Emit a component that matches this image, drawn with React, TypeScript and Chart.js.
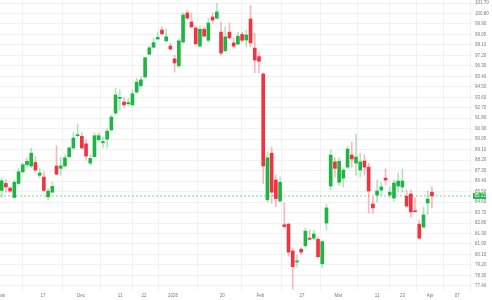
import React, { useEffect, useRef } from "react";
import { Chart, registerables } from "chart.js";

Chart.register(...registerables);

// OHLC values (one entry per daily candle)
const opens = [
  85.6, 86.2, 85.8, 85.0, 86.2, 87.2, 87.8, 87.7, 88.0, 86.9,
  86.75, 85.05, 85.45, 87.7, 87.5, 87.7, 88.5, 89.25, 90.3, 90.25,
  89.6, 87.95, 88.5, 89.95, 89.7, 90.0, 90.8, 92.25, 93.5, 93.2,
  93.05, 92.95, 94.05, 94.6, 95.35, 97.3, 97.9, 98.6, 99.38, 98.45,
  98.0, 96.9, 96.3, 98.35, 100.85, 100.07, 99.55, 98.0, 99.45, 98.5,
  100.5, 100.4, 99.2, 97.6, 99.2, 98.27, 98.18, 99.0, 98.52, 100.33,
  97.83, 97.1, 95.6, 84.8, 88.8, 86.5, 84.7, 82.65, 82.7, 80.4,
  79.45, 80.55, 80.85, 81.5, 81.5, 81.4, 79.3, 82.8, 85.98, 88.05,
  86.3, 86.66, 87.6, 88.64, 87.95, 87.35, 88.13, 87.6, 84.43, 85.2,
  85.63, 86.66, 85.2, 84.95, 85.98, 85.9, 85.1, 85.3, 83.85, 82.7,
  82.45, 84.52, 85.45,
];
const highs = [
  86.65, 86.5, 85.92, 86.5, 87.5, 87.95, 88.4, 89.25, 88.5, 87.5,
  87.2, 85.75, 86.3, 89.45, 88.45, 88.65, 89.35, 90.55, 91.3, 90.55,
  89.95, 88.65, 90.55, 90.55, 90.2, 90.9, 92.1, 94.4, 94.23, 93.6,
  93.5, 94.23, 95.25, 95.35, 97.05, 98.0, 98.7, 99.2, 99.65, 99.5,
  98.25, 97.2, 98.6, 100.85, 101.1, 100.85, 99.72, 99.72, 99.65, 100.4,
  100.85, 101.68, 100.07, 99.65, 99.98, 98.7, 99.2, 99.2, 99.38, 101.5,
  99.12, 97.5, 95.7, 88.9, 89.33, 86.92, 86.75, 84.52, 82.8, 80.6,
  80.05, 80.7, 82.37, 82.2, 82.2, 81.6, 81.35, 84.43, 89.07, 88.4,
  88.4, 87.5, 89.4, 89.75, 90.45, 88.8, 88.64, 87.95, 85.03, 86.49,
  86.32, 87.44, 85.9, 86.49, 87.1, 87.44, 85.63, 85.63, 84.95, 83.06,
  84.18, 85.55, 85.9,
];
const lows = [
  85.03, 85.45, 85.45, 84.95, 86.1, 87.1, 87.6, 87.55, 87.2, 86.7,
  85.45, 84.8, 85.4, 86.9, 86.9, 87.6, 88.4, 89.1, 90.2, 89.15,
  88.2, 87.8, 88.45, 89.8, 89.25, 89.25, 90.7, 92.1, 92.5, 92.75,
  92.9, 92.85, 93.95, 94.5, 95.25, 97.25, 97.85, 98.6, 98.95, 98.35,
  97.65, 95.77, 96.2, 98.25, 100.24, 99.55, 98.1, 97.9, 98.8, 98.35,
  99.98, 100.33, 97.23, 97.5, 98.6, 97.83, 98.1, 98.35, 97.92, 97.92,
  95.7, 95.7, 86.2, 84.6, 84.52, 84.2, 84.6, 82.37, 79.96, 77.13,
  79.0, 80.05, 80.65, 81.35, 81.35, 79.8, 78.93, 82.2, 85.63, 86.75,
  86.05, 85.9, 87.5, 87.6, 86.9, 86.75, 86.92, 83.65, 83.65, 84.6,
  85.2, 86.07, 85.03, 84.69, 85.46, 85.46, 84.1, 83.3, 83.75, 81.42,
  82.37, 83.5, 84.1,
];
const closes = [
  86.43, 85.9, 85.55, 86.3, 87.2, 87.8, 88.1, 88.8, 87.35, 87.1,
  85.6, 85.55, 85.95, 87.0, 87.7, 88.4, 89.25, 90.1, 90.38, 89.25,
  88.55, 88.35, 90.3, 90.3, 89.8, 90.7, 91.9, 93.8, 93.6, 92.95,
  93.15, 93.9, 94.9, 95.1, 97.0, 97.85, 98.3, 98.75, 99.05, 98.8,
  97.75, 96.55, 98.45, 100.67, 100.4, 99.65, 98.2, 99.45, 98.85, 99.98,
  100.24, 100.93, 97.4, 98.8, 98.7, 98.0, 98.85, 98.5, 98.95, 98.27,
  96.8, 96.7, 87.7, 88.4, 85.45, 84.9, 86.3, 82.5, 80.3, 79.05,
  79.55, 80.3, 82.1, 81.4, 81.85, 79.9, 81.2, 84.1, 88.64, 87.5,
  88.1, 87.35, 89.15, 88.3, 88.47, 88.05, 87.6, 85.55, 84.1, 85.55,
  85.9, 86.49, 85.45, 86.24, 86.41, 86.41, 84.26, 83.75, 83.77, 81.5,
  83.5, 84.86, 85.13,
];

const lastPrice = 85.13;

// time-axis labels and where they sit (in candle index units)
const xTickLabels = ["Jan", "17", "Dec", "11", "22", "2026", "20", "Feb", "27", "Mar", "11", "23", "Apr", "07"];
const xTickPositions = [0, 9.8, 18.8, 28.06, 33.75, 40.6, 52.3, 61.3, 71.2, 79.8, 89.0, 95.0, 101.6, 108.0];

// price-axis labels
const yTickValues = [
  101.7, 100.8, 99.9, 99.0, 98.1, 97.2, 96.3, 95.4, 94.5, 93.6,
  92.7, 91.8, 90.9, 90.0, 89.1, 88.2, 87.3, 86.4, 85.5, 84.6,
  83.7, 82.8, 81.9, 81.0, 80.1, 79.2, 78.3, 77.4,
];

const X_MIN = -0.4;
const X_MAX = 111.5;
const Y_MIN = 76.96;
const Y_MAX = 101.96;

const UP = "#1fb544";
const DOWN = "#ef3340";
const UP_WICK = "rgba(31,181,68,0.35)";
const DOWN_WICK = "rgba(239,51,64,0.35)";
const FONT = "'Liberation Sans', Arial, sans-serif";

const priceTag = {
  id: "priceTag",
  afterDraw(chart: any) {
    const { ctx, chartArea, scales } = chart;
    const y = scales.y.getPixelForValue(lastPrice);
    ctx.save();
    ctx.fillStyle = UP;
    ctx.fillRect(chartArea.right + 1, y - 3, 13, 6);
    ctx.fillStyle = "#ffffff";
    ctx.font = `4.5px ${FONT}`;
    ctx.textBaseline = "middle";
    ctx.textAlign = "left";
    ctx.fillText(lastPrice.toFixed(2), chartArea.right + 2.5, y + 0.3);
    ctx.restore();
  },
};

export default function App() {
  const ref = useRef<HTMLCanvasElement | null>(null);

  useEffect(() => {
    document.body.style.margin = "0";
    const canvas = ref.current;
    if (!canvas) return;

    const idx = opens.map((_, i) => i);
    const bodies = idx.map((i) => ({
      x: i,
      y: [Math.min(opens[i], closes[i]), Math.max(opens[i], closes[i])],
    }));
    const wicks = idx.map((i) => ({ x: i, y: [lows[i], highs[i]] }));
    const bodyColors = idx.map((i) => (closes[i] >= opens[i] ? UP : DOWN));
    const wickColors = idx.map((i) => (closes[i] >= opens[i] ? UP_WICK : DOWN_WICK));

    const chart = new Chart(canvas, {
      type: "bar",
      data: {
        datasets: [
          {
            type: "line",
            data: [
              { x: X_MIN, y: lastPrice },
              { x: X_MAX, y: lastPrice },
            ],
            borderColor: "rgba(31,181,68,0.55)",
            borderDash: [2, 2],
            borderWidth: 1,
            pointRadius: 0,
            order: 3,
          } as any,
          {
            data: wicks as any,
            backgroundColor: wickColors,
            barThickness: 1,
            grouped: false,
            order: 2,
          },
          {
            data: bodies as any,
            backgroundColor: bodyColors,
            barThickness: 3,
            grouped: false,
            minBarLength: 1,
            order: 1,
          },
        ],
      },
      options: {
        animation: false,
        responsive: false,
        maintainAspectRatio: false,
        layout: { padding: 0 },
        plugins: { legend: { display: false }, tooltip: { enabled: false } },
        scales: {
          x: {
            type: "linear",
            min: X_MIN,
            max: X_MAX,
            position: "bottom",
            offset: false,
            border: { display: false },
            grid: { color: "#f1f1f1", drawTicks: false, lineWidth: 1 },
            ticks: {
              font: { size: 4.5, family: FONT },
              color: "#7a7a7a",
              padding: 2,
              maxRotation: 0,
              autoSkip: false,
              callback: (_v: any, i: number) => xTickLabels[i],
            },
            afterBuildTicks: (s: any) => {
              s.ticks = xTickPositions.map((v) => ({ value: v }));
            },
            afterFit: (s: any) => {
              s.height = 9;
              s.paddingLeft = 0;
              s.paddingRight = 0;
            },
          },
          y: {
            type: "linear",
            position: "right",
            min: Y_MIN,
            max: Y_MAX,
            border: { display: false },
            grid: { color: "#f1f1f1", drawTicks: false, lineWidth: 1 },
            ticks: {
              font: { size: 4.5, family: FONT },
              color: "#7a7a7a",
              padding: 3,
              crossAlign: "near",
              callback: (v: any) => Number(v).toFixed(2),
            },
            afterBuildTicks: (s: any) => {
              s.ticks = yTickValues.map((v) => ({ value: v }));
            },
            afterFit: (s: any) => {
              s.width = 20;
              s.paddingTop = 0;
              s.paddingBottom = 0;
            },
          },
        },
      },
      plugins: [priceTag],
    });

    return () => chart.destroy();
  }, []);

  return (
    <div style={{ width: 492, height: 300, background: "#ffffff" }}>
      <canvas ref={ref} width={492} height={300} style={{ display: "block" }} />
    </div>
  );
}
